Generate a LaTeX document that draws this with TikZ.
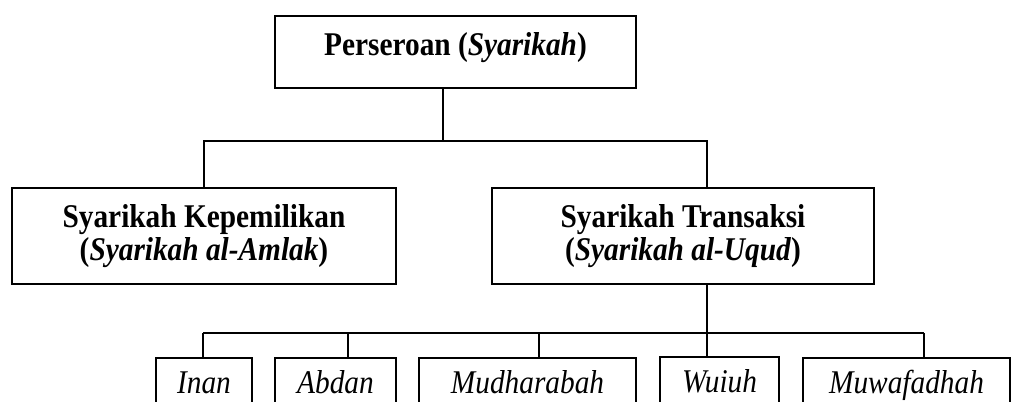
\documentclass[tikz,border=0pt]{standalone}
\usepackage{graphicx}
\usepackage{fontspec}
\setmainfont{Liberation Serif}
\newcommand\tallt[1]{\scalebox{1}[1.13]{#1}}

\begin{document}
\begin{tikzpicture}[x=0.75pt,y=-0.75pt,
   box/.style={draw,line width=1.1pt,inner sep=0pt,font=\fontsize{22}{24.75}\selectfont},
   rootbox/.style={box,minimum height=54pt,text height=16pt,text depth=11.5pt},
   midbox/.style={box,minimum height=72pt,align=center,font=\fontsize{22}{24.75}\selectfont\bfseries},
   leafbox/.style={box,minimum height=54pt,text height=16pt,text depth=17.5pt,font=\fontsize{22}{24.75}\selectfont\itshape},
   link/.style={line width=0.9pt}]
   \useasboundingbox (0,0) rectangle (1011,401);
   \node[rootbox,minimum width=270.75pt] (root) at (455.5,52) {\tallt{\textbf{Perseroan (\textit{Syarikah})}}};
   \node[midbox,minimum width=288pt] (milik) at (204,236) {\tallt{Syarikah Kepemilikan}\\\tallt{(\textit{Syarikah al-Amlak})}};
   \node[midbox,minimum width=286.5pt] (akad) at (683,236) {\tallt{Syarikah Transaksi}\\\tallt{(\textit{Syarikah al-Uqud})}};
   \node[leafbox,minimum width=72pt] (inan) at (204,394) {\tallt{Inan}};
   \node[leafbox,minimum width=90.75pt] (abdan) at (335.5,394) {\tallt{Abdan}};
   \node[leafbox,minimum width=162.75pt] (mudharabah) at (527.5,394) {\tallt{Mudharabah}};
   \node[leafbox,minimum width=89.25pt] (wuiuh) at (719.5,393) {\tallt{Wuiuh}};
   \node[leafbox,minimum width=155.25pt] (muwafadhah) at (906.5,394) {\tallt{Muwafadhah}};
   \coordinate (split) at (443,141);
   \coordinate (uqud) at (707,141);
   \coordinate (bus) at (203,333);
   \coordinate (busend) at (924,333);
   \draw[link] (root.south -| split) -- (split);
   \draw[link] (milik.north) |- (uqud) -- (uqud |- akad.north);
   \draw[link] (uqud |- akad.south) -- (uqud |- wuiuh.north);
   \draw[link] (bus) -- (busend);
   \foreach \n/\x in {inan/203,abdan/348,mudharabah/539,muwafadhah/924}
      \draw[link] (bus -| \x,0) -- (\n.north -| \x,0);
\end{tikzpicture}
\end{document}
